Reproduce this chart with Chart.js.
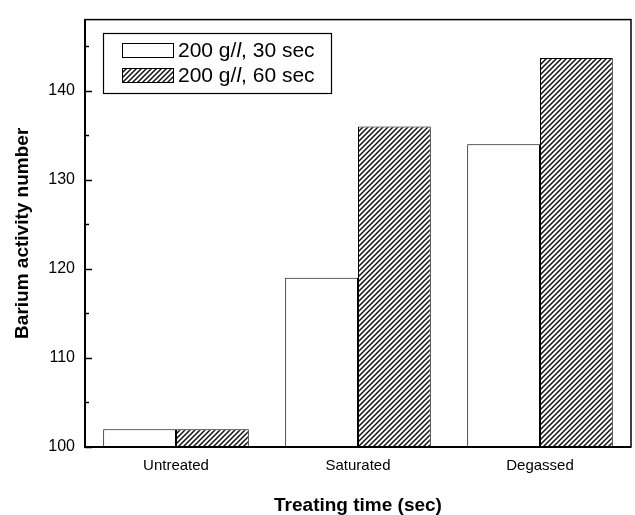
<!DOCTYPE html>
<html>
<head>
<meta charset="utf-8">
<script src="https://cdn.jsdelivr.net/npm/chart.js@4"></script>
<style>
  html, body { margin: 0; padding: 0; background: #fff; }
  #wrap { width: 635px; height: 515px; }
</style>
</head>
<body>
<div id="wrap"><canvas id="barChart" width="635" height="515"></canvas></div>
<script>
const categories = ["Untreated", "Saturated", "Degassed"];
const seriesLabels = ["200 g/l, 30 sec", "200 g/l, 60 sec"];
const values30 = [102, 119, 134];
const values60 = [102, 136, 143.7];
const majorTicks = [100, 110, 120, 130, 140];
const minorTicks = [105, 115, 125, 135, 145];

const FONT = "'Liberation Sans', Arial, sans-serif";

// diagonal hatch like the scanned figure
function makeHatch() {
    const c = document.createElement("canvas");
    c.width = 5; c.height = 5;
    const g = c.getContext("2d");
    g.fillStyle = "#fff";
    g.fillRect(0, 0, 5, 5);
    g.strokeStyle = "#111";
    g.lineWidth = 1.5;
    g.beginPath();
    g.moveTo(-1, 6); g.lineTo(6, -1);
    g.moveTo(-1, 1); g.lineTo(1, -1);
    g.moveTo(4, 6); g.lineTo(6, 4);
    g.stroke();
    return g.createPattern(c, "repeat");
}

document.addEventListener("DOMContentLoaded", function() {
    const ctx = document.getElementById("barChart").getContext("2d");
    const hatch = makeHatch();

    const framePlugin = {
        id: "frame",
        afterDraw(chart) {
            const c = chart.ctx;
            const a = chart.chartArea;
            const y = chart.scales.y;
            c.save();
            c.strokeStyle = "#000";
            // box
            c.lineWidth = 1.5;
            c.strokeRect(a.left, a.top, a.right - a.left, a.bottom - a.top);
            c.lineWidth = 2;
            c.beginPath();
            c.moveTo(a.left, a.top); c.lineTo(a.left, a.bottom); c.lineTo(a.right, a.bottom);
            c.stroke();
            // inward ticks
            c.lineWidth = 1.5;
            c.beginPath();
            majorTicks.forEach(v => {
                const py = Math.round(y.getPixelForValue(v)) + 0.5;
                c.moveTo(a.left, py); c.lineTo(a.left + 7, py);
            });
            minorTicks.forEach(v => {
                const py = Math.round(y.getPixelForValue(v)) + 0.5;
                c.moveTo(a.left, py); c.lineTo(a.left + 4, py);
            });
            c.stroke();

            // legend box
            const lx = 103, ly = 33, lw = 228, lh = 60;
            c.lineWidth = 1.2;
            c.strokeRect(lx + 0.5, ly + 0.5, lw, lh);
            const fills = ["#fff", hatch];
            c.textBaseline = "middle";
            seriesLabels.forEach((lab, i) => {
                const sy = ly + 10 + i * 25;
                c.fillStyle = fills[i];
                c.fillRect(lx + 19, sy, 51, 14);
                c.lineWidth = 1;
                c.strokeRect(lx + 19.5, sy + 0.5, 51, 14);
                // label with italic "l" in g/l
                const k = lab.indexOf("/l") + 1;
                const a1 = lab.slice(0, k), a2 = lab.slice(k, k + 1), a3 = lab.slice(k + 1);
                let tx = lx + 75;
                const ty = sy + 8;
                c.fillStyle = "#000";
                c.font = "21px " + FONT;
                c.fillText(a1, tx, ty); tx += c.measureText(a1).width;
                c.font = "italic 21px " + FONT;
                c.fillText(a2, tx, ty); tx += c.measureText(a2).width;
                c.font = "21px " + FONT;
                c.fillText(a3, tx, ty);
            });
            c.restore();
        }
    };

    new Chart(ctx, {
        type: "bar",
        data: {
            labels: categories,
            datasets: [{
                label: seriesLabels[0],
                data: values30,
                backgroundColor: "#fff",
                borderColor: "#000",
                borderWidth: 1
            }, {
                label: seriesLabels[1],
                data: values60,
                backgroundColor: hatch,
                borderColor: "#000",
                borderWidth: 1
            }]
        },
        options: {
            responsive: false,
            animation: false,
            layout: { padding: { top: 14, right: 4, left: 0, bottom: 0 } },
            plugins: {
                legend: { display: false },
                tooltip: { enabled: false }
            },
            datasets: { bar: { categoryPercentage: 0.8, barPercentage: 1.0 } },
            scales: {
                x: {
                    offset: true,
                    grid: { display: false, drawTicks: false },
                    border: { display: false },
                    ticks: { color: "#000", font: { family: FONT, size: 15 }, padding: 10 },
                    title: {
                        display: true, text: "Treating time (sec)", color: "#000",
                        font: { family: FONT, size: 19, weight: "bold", lineHeight: 1 },
                        padding: { top: 0, bottom: 0 }
                    },
                    afterFit: s => { s.height = 68; }
                },
                y: {
                    min: 100,
                    max: 148,
                    grid: { display: false, drawTicks: false },
                    border: { display: false },
                    ticks: {
                        stepSize: 10, color: "#000", padding: 10,
                        font: { family: FONT, size: 16 },
                        callback: v => (majorTicks.includes(v) ? v : "")
                    },
                    title: {
                        display: true, text: "Barium activity number", color: "#000",
                        font: { family: FONT, size: 19, weight: "bold", lineHeight: 1 },
                        padding: { top: 13, bottom: 0 }
                    },
                    afterFit: s => { s.width = 85; }
                }
            }
        },
        plugins: [framePlugin]
    });
});
</script>
</body>
</html>
